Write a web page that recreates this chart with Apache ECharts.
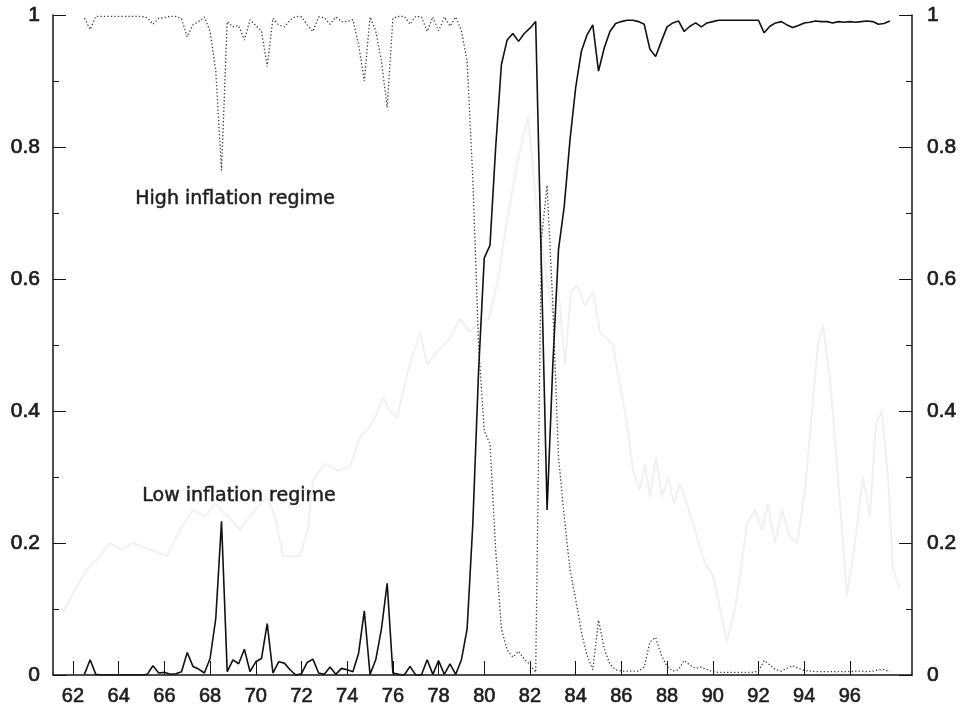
<!DOCTYPE html>
<html><head><meta charset="utf-8">
<script src="https://cdn.jsdelivr.net/npm/echarts@6/dist/echarts.min.js"></script>
<style>html,body{margin:0;padding:0;background:#fff}#c{width:965px;height:712px}</style>
</head><body><div id="c"></div>
<script>
// Quarterly observations 1962Q3 .. 1997Q4
const firstQuarter = 1962.5;
const nQuarters = 142;
const quarters = [];
for (let i = 0; i < nQuarters; i++) quarters.push(firstQuarter + i * 0.25);

// Probability of the low inflation regime (solid line)
const probLow = [
 0.001,0.023,0.001,0.000,0.000,0.000,0.000,0.000,0.000,0.000,
 0.000,0.001,0.014,0.003,0.004,0.001,0.002,0.005,0.034,0.013,
 0.009,0.003,0.025,0.086,0.233,0.005,0.023,0.017,0.039,0.005,
 0.020,0.025,0.078,0.003,0.020,0.018,0.008,0.000,0.002,0.019,
 0.024,0.003,0.001,0.012,0.001,0.010,0.008,0.005,0.033,0.097,
 0.001,0.023,0.070,0.139,0.003,0.001,0.000,0.013,0.000,0.000,
 0.023,0.001,0.022,0.001,0.017,0.001,0.023,0.070,0.230,0.460,
 0.632,0.651,0.800,0.925,0.962,0.972,0.960,0.972,0.980,0.990,
 0.620,0.250,0.470,0.645,0.710,0.810,0.890,0.945,0.970,0.985,
 0.915,0.950,0.975,0.987,0.990,0.992,0.992,0.990,0.986,0.948,
 0.937,0.960,0.982,0.988,0.991,0.975,0.983,0.988,0.982,0.988,
 0.990,0.992,0.992,0.992,0.992,0.992,0.992,0.992,0.992,0.973,
 0.983,0.988,0.990,0.985,0.981,0.984,0.988,0.989,0.991,0.990,
 0.990,0.988,0.990,0.989,0.990,0.989,0.990,0.991,0.990,0.986,
 0.987,0.991
];

// Probability of the high inflation regime (dotted line)
const probHigh = [
 0.995,0.978,0.998,0.998,0.998,0.998,0.998,0.998,0.998,0.998,
 0.998,0.996,0.986,0.995,0.996,0.998,0.998,0.994,0.967,0.985,
 0.990,0.997,0.975,0.915,0.765,0.990,0.982,0.984,0.962,0.993,
 0.984,0.976,0.922,0.995,0.985,0.982,0.992,0.998,0.997,0.985,
 0.975,0.997,0.996,0.986,0.997,0.990,0.990,0.993,0.955,0.900,
 0.997,0.976,0.930,0.860,0.995,0.998,0.998,0.986,0.998,0.997,
 0.975,0.997,0.976,0.997,0.983,0.997,0.976,0.930,0.750,0.500,
 0.370,0.350,0.190,0.070,0.038,0.027,0.036,0.024,0.016,0.004,
 0.660,0.742,0.560,0.330,0.240,0.160,0.115,0.065,0.030,0.008,
 0.083,0.040,0.016,0.008,0.006,0.006,0.006,0.006,0.012,0.050,
 0.057,0.030,0.013,0.006,0.008,0.022,0.015,0.010,0.012,0.008,
 0.005,0.004,0.004,0.004,0.004,0.004,0.004,0.004,0.006,0.022,
 0.015,0.008,0.006,0.010,0.014,0.010,0.007,0.006,0.005,0.005,
 0.005,0.005,0.005,0.005,0.005,0.006,0.006,0.005,0.006,0.008,
 0.008,0.005
];

// Faint show-through line visible in the scanned figure
const ghostX = [61.56,62.09,62.61,63.18,63.62,64.14,64.63,65.37,66.11,66.68,67.25,67.78,68.21,68.78,69.31,69.96,70.49,70.84,71.19,71.93,72.28,72.50,73.03,73.60,74.12,74.56,75.09,75.57,75.87,76.18,76.66,77.19,77.49,77.93,78.50,78.94,79.37,79.68,80.21,80.60,80.95,81.47,81.91,82.26,82.66,82.96,83.23,83.53,83.79,84.06,84.41,84.76,85.06,85.37,85.63,85.94,86.25,86.51,86.81,87.03,87.25,87.51,87.78,88.04,88.30,88.56,88.87,89.22,89.66,90.01,90.32,90.62,90.97,91.23,91.50,91.85,92.15,92.42,92.72,93.03,93.38,93.69,94.04,94.34,94.60,94.82,95.13,95.48,95.87,96.22,96.57,96.88,97.14,97.40,97.67,97.89,98.19];
const ghostY = [0.094,0.13,0.16,0.18,0.2,0.19,0.2,0.19,0.18,0.22,0.25,0.24,0.26,0.24,0.22,0.25,0.27,0.24,0.18,0.18,0.22,0.295,0.32,0.31,0.315,0.36,0.38,0.42,0.40,0.39,0.46,0.52,0.47,0.49,0.51,0.54,0.52,0.53,0.54,0.6,0.68,0.78,0.846,0.72,0.62,0.55,0.59,0.47,0.58,0.59,0.56,0.58,0.52,0.51,0.5,0.44,0.38,0.31,0.28,0.32,0.27,0.33,0.27,0.3,0.26,0.29,0.26,0.22,0.17,0.15,0.1,0.05,0.1,0.16,0.23,0.25,0.22,0.26,0.2,0.25,0.21,0.2,0.28,0.4,0.5,0.53,0.45,0.3,0.12,0.2,0.3,0.24,0.38,0.4,0.3,0.16,0.13];

const tickYears = [1962,1964,1966,1968,1970,1972,1974,1976,1978,1980,1982,1984,1986,1988,1990,1992,1994,1996];
const yTickLabels = {0:'0',0.2:'0.2',0.4:'0.4',0.6:'0.6',0.8:'0.8',1:'1'};

const solidData = quarters.map((q, i) => [q, probLow[i]]);
const dottedData = quarters.map((q, i) => [q, probHigh[i]]);
const ghostData = ghostX.map((x, i) => [1900 + x, ghostY[i]]);

const ink = '#151515';
const labelInk = '#1c1c1c';
function yAxisCfg(pos, margin) {
  return {
    type: 'value', position: pos, min: 0, max: 1, interval: 0.2,
    axisLine: {show: true, onZero: false, lineStyle: {color: ink, width: 1.5}},
    axisTick: {show: true, inside: true, length: 13, lineStyle: {color: ink, width: 1}},
    minorTick: {show: true, splitNumber: 2, length: 6, lineStyle: {color: ink, width: 1}},
    splitLine: {show: false}, minorSplitLine: {show: false},
    axisLabel: {
      margin: margin, fontFamily: 'Liberation Sans', fontSize: 21, color: labelInk,
      textBorderColor: labelInk, textBorderWidth: 0.7,
      formatter: v => { const k = Math.round(v * 10) / 10; return yTickLabels[k] !== undefined ? yTickLabels[k] : String(k); }
    }
  };
}

const chart = echarts.init(document.getElementById('c'), null, {renderer: 'canvas'});
chart.setOption({
  animation: false,
  backgroundColor: '#ffffff',
  grid: {left: 53, right: 53, top: 15, bottom: 37, containLabel: false},
  xAxis: {
    type: 'value', min: 1961.125, max: 1998.72,
    axisLine: {show: true, onZero: false, lineStyle: {color: ink, width: 1.5}},
    axisTick: {show: true, inside: true, length: 14, customValues: tickYears, lineStyle: {color: ink, width: 1}},
    axisLabel: {customValues: tickYears, margin: 11, fontFamily: 'Liberation Sans', fontSize: 20, color: labelInk,
      textBorderColor: labelInk, textBorderWidth: 0.6,
      formatter: v => String(Math.round(v) % 100)},
    splitLine: {show: false}
  },
  yAxis: [yAxisCfg('left', 13), yAxisCfg('right', 15)],
  graphic: [
    {type: 'text', left: 135, top: 189, style: {text: 'High inflation regime', font: '19px "DejaVu Sans"', fill: '#1e1e1e', stroke: '#1e1e1e', lineWidth: 0.5}},
    {type: 'text', left: 142, top: 486, style: {text: 'Low inflation regime', font: '19px "DejaVu Sans"', fill: '#1e1e1e', stroke: '#1e1e1e', lineWidth: 0.5}}
  ],
  series: [
    {type: 'line', data: ghostData, showSymbol: false, z: 1, silent: true,
     lineStyle: {color: '#f1f1f1', width: 2}},
    {type: 'line', data: dottedData, showSymbol: false, z: 3,
     lineStyle: {color: '#3a3a3a', width: 1.3, type: [1.3, 2.2]}},
    {type: 'line', data: solidData, showSymbol: false, z: 4,
     lineStyle: {color: '#111', width: 1.6}}
  ]
});
</script>
</body></html>
